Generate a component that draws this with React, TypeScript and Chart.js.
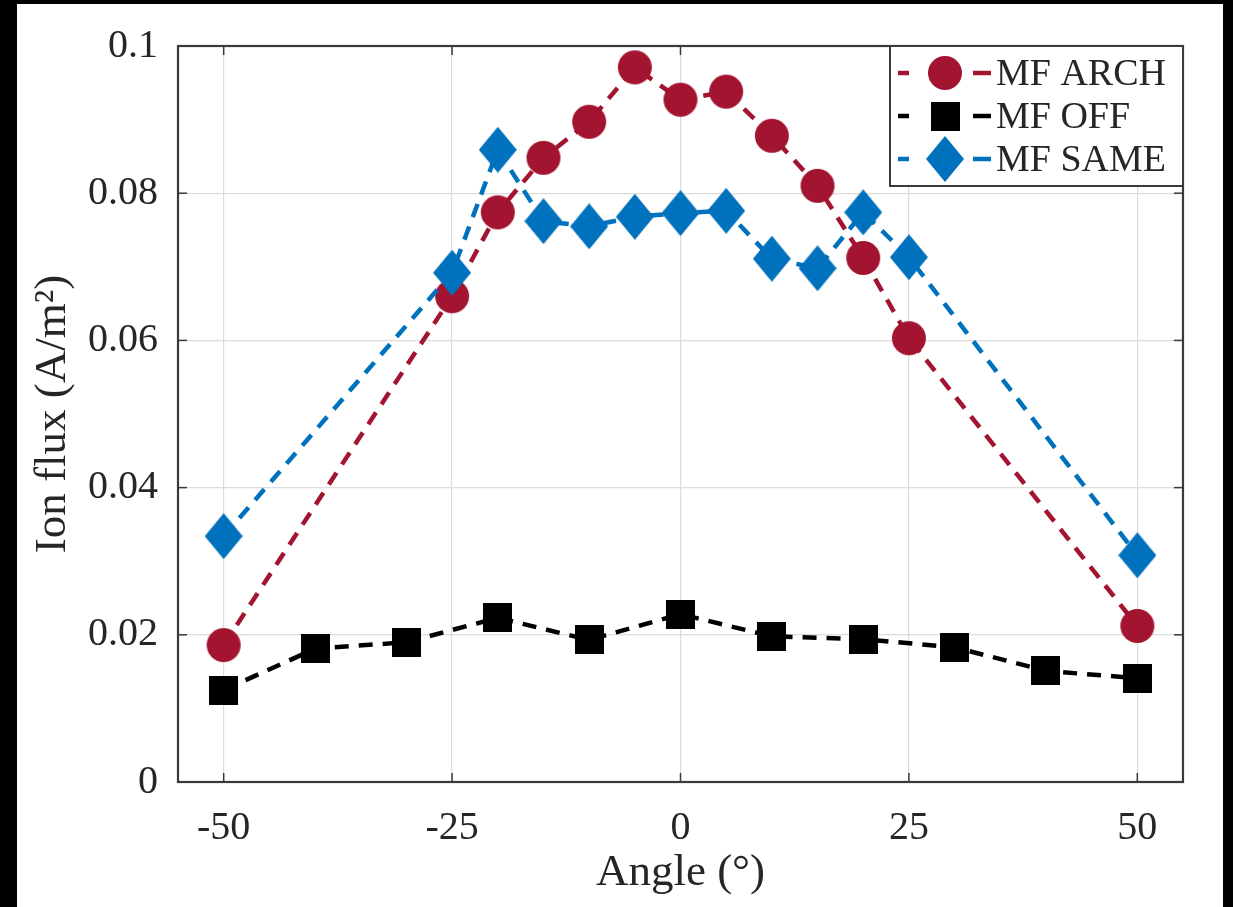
import React, { useEffect, useRef } from "react";
import { Chart, registerables } from "chart.js";

Chart.register(...registerables);

// ---- data ----
const archAngles = [-50, -25, -20, -15, -10, -5, 0, 5, 10, 15, 20, 25, 50];
const archFlux = [0.0186, 0.066, 0.0774, 0.0848, 0.0897, 0.0971, 0.0927, 0.0938, 0.0878, 0.081, 0.0712, 0.0603, 0.0212];

const offAngles = [-50, -40, -30, -20, -10, 0, 10, 20, 30, 40, 50];
const offFlux = [0.0125, 0.0181, 0.019, 0.0223, 0.0193, 0.0228, 0.0198, 0.0194, 0.0183, 0.0151, 0.0141];

const sameAngles = [-50, -25, -20, -15, -10, -5, 0, 5, 10, 15, 20, 25, 50];
const sameFlux = [0.0334, 0.0692, 0.0859, 0.0762, 0.0755, 0.0768, 0.0773, 0.0776, 0.0711, 0.0698, 0.0774, 0.0713, 0.0308];

const seriesNames = ["MF ARCH", "MF OFF", "MF SAME"];
const xTicks = [-50, -25, 0, 25, 50];
const xTickLabels = ["-50", "-25", "0", "25", "50"];
const yTicks = [0, 0.02, 0.04, 0.06, 0.08, 0.1];
const yTickLabels = ["0", "0.02", "0.04", "0.06", "0.08", "0.1"];
const xTitle = "Angle (°)";
const yTitle = "Ion flux (A/m²)";

const RED = "#A2142F";
const BLUE = "#0072BD";
const BLACK = "#000000";
const AXIS = "#3a3a3a";
const TEXT = "#262626";
const SERIF = "'Liberation Serif', 'DejaVu Serif', serif";

function makeCircle(r: number, color: string) {
  const c = document.createElement("canvas");
  c.width = 2 * r + 2;
  c.height = 2 * r + 2;
  const g = c.getContext("2d")!;
  g.fillStyle = color;
  g.beginPath();
  g.arc(r + 1, r + 1, r, 0, Math.PI * 2);
  g.fill();
  return c;
}
function makeSquare(s: number, color: string) {
  const c = document.createElement("canvas");
  c.width = s;
  c.height = s;
  const g = c.getContext("2d")!;
  g.fillStyle = color;
  g.fillRect(0, 0, s, s);
  return c;
}
function makeDiamond(w: number, h: number, color: string) {
  const c = document.createElement("canvas");
  c.width = w;
  c.height = h;
  const g = c.getContext("2d")!;
  g.fillStyle = color;
  g.beginPath();
  g.moveTo(w / 2, 0);
  g.lineTo(w, h / 2);
  g.lineTo(w / 2, h);
  g.lineTo(0, h / 2);
  g.closePath();
  g.fill();
  return c;
}

export default function App() {
  const ref = useRef<HTMLCanvasElement | null>(null);

  useEffect(() => {
    if (!ref.current) return;
    const circle = makeCircle(17, RED);
    const square = makeSquare(29, BLACK);
    const diamond = makeDiamond(38, 46, BLUE);
    const markers = [circle, square, diamond];
    const colors = [RED, BLACK, BLUE];

    const framePlugin = {
      id: "frame",
      beforeDatasetsDraw(chart: any) {
        const { ctx, chartArea: a, scales } = chart;
        ctx.save();
        ctx.strokeStyle = AXIS;
        ctx.lineWidth = 1.5;
        const tl = 9;
        const seg = (x1: number, y1: number, x2: number, y2: number) => {
          ctx.beginPath();
          ctx.moveTo(x1, y1);
          ctx.lineTo(x2, y2);
          ctx.stroke();
        };
        xTicks.forEach((v) => {
          const x = scales.x.getPixelForValue(v);
          seg(x, a.bottom, x, a.bottom - tl);
          seg(x, a.top, x, a.top + tl);
        });
        yTicks.forEach((v) => {
          const y = scales.y.getPixelForValue(v);
          seg(a.left, y, a.left + tl, y);
          seg(a.right, y, a.right - tl, y);
        });
        ctx.lineWidth = 2.2;
        ctx.strokeRect(a.left, a.top, a.right - a.left, a.bottom - a.top);
        ctx.restore();
      },
      afterDraw(chart: any) {
        const { ctx, chartArea: a } = chart;
        const w = 293;
        const h = 140;
        const left = a.right - w;
        const top = a.top;
        ctx.save();
        ctx.fillStyle = "#ffffff";
        ctx.fillRect(left, top, w, h);
        ctx.strokeStyle = AXIS;
        ctx.lineWidth = 2;
        ctx.strokeRect(left, top, w, h);
        ctx.font = `38px ${SERIF}`;
        ctx.textBaseline = "middle";
        ctx.textAlign = "left";
        seriesNames.forEach((name, i) => {
          const cy = top + 27 + i * 43;
          ctx.strokeStyle = colors[i];
          ctx.lineWidth = 4.5;
          ctx.beginPath();
          ctx.moveTo(left + 8, cy);
          ctx.lineTo(left + 19, cy);
          ctx.moveTo(left + 83, cy);
          ctx.lineTo(left + 101, cy);
          ctx.stroke();
          const m = markers[i];
          ctx.drawImage(m, left + 55 - m.width / 2, cy - m.height / 2);
          ctx.fillStyle = TEXT;
          ctx.fillText(name, left + 106, cy + 2);
        });
        ctx.restore();
      },
    };

    const mk = (xs: number[], ys: number[]) => xs.map((x, i) => ({ x, y: ys[i] }));

    const chart = new Chart(ref.current, {
      type: "line",
      data: {
        datasets: [
          {
            label: seriesNames[0],
            data: mk(archAngles, archFlux),
            borderColor: RED,
            backgroundColor: RED,
            borderWidth: 4.5,
            borderDash: [14, 10],
            pointStyle: circle as any,
            pointRadius: 17,
            order: 3,
          },
          {
            label: seriesNames[1],
            data: mk(offAngles, offFlux),
            borderColor: BLACK,
            backgroundColor: BLACK,
            borderWidth: 4.5,
            borderDash: [14, 10],
            pointStyle: square as any,
            pointRadius: 16,
            order: 2,
          },
          {
            label: seriesNames[2],
            data: mk(sameAngles, sameFlux),
            borderColor: BLUE,
            backgroundColor: BLUE,
            borderWidth: 4.5,
            borderDash: [14, 10],
            pointStyle: diamond as any,
            pointRadius: 19,
            order: 1,
          },
        ],
      },
      options: {
        animation: false,
        responsive: false,
        devicePixelRatio: 1,
        events: [],
        layout: { padding: { left: 0, right: 50, top: 46, bottom: 0 } },
        plugins: { legend: { display: false }, tooltip: { enabled: false } },
        elements: { line: { tension: 0 } },
        scales: {
          x: {
            type: "linear",
            min: -55,
            max: 55,
            afterBuildTicks: (s: any) => {
              s.ticks = xTicks.map((v) => ({ value: v }));
            },
            afterFit: (s: any) => {
              s.height = 125;
            },
            ticks: {
              callback: (v: any) => {
                const i = xTicks.indexOf(Number(v));
                return i >= 0 ? xTickLabels[i] : "";
              },
              font: { family: SERIF, size: 40 },
              color: TEXT,
              padding: 22,
              maxRotation: 0,
            },
            grid: { color: "#dcdcdc", lineWidth: 1.2, drawTicks: false },
            border: { display: false },
            title: {
              display: true,
              text: xTitle,
              font: { family: SERIF, size: 45 },
              color: TEXT,
              padding: { top: 7, bottom: 7 },
            },
          },
          y: {
            type: "linear",
            min: 0,
            max: 0.1,
            afterBuildTicks: (s: any) => {
              s.ticks = yTicks.map((v) => ({ value: v }));
            },
            afterFit: (s: any) => {
              s.width = 178;
            },
            ticks: {
              callback: (v: any) => {
                const i = yTicks.findIndex((t) => Math.abs(t - Number(v)) < 1e-9);
                return i >= 0 ? yTickLabels[i] : "";
              },
              font: { family: SERIF, size: 40 },
              color: TEXT,
              padding: 20,
            },
            grid: { color: "#dcdcdc", lineWidth: 1.2, drawTicks: false },
            border: { display: false },
            title: {
              display: true,
              text: yTitle,
              font: { family: SERIF, size: 45 },
              color: TEXT,
              padding: { top: 26, bottom: 26 },
            },
          },
        },
      },
      plugins: [framePlugin],
    });
    return () => chart.destroy();
  }, []);

  return (
    <div style={{ position: "fixed", left: 0, top: 0, width: 1233, height: 907, background: "#000" }}>
      <div style={{ position: "absolute", left: 17, top: 4, width: 1206, height: 903, background: "#fff" }} />
      <canvas
        ref={ref}
        width={1233}
        height={907}
        style={{ position: "absolute", left: 0, top: 0, width: 1233, height: 907 }}
      />
    </div>
  );
}
